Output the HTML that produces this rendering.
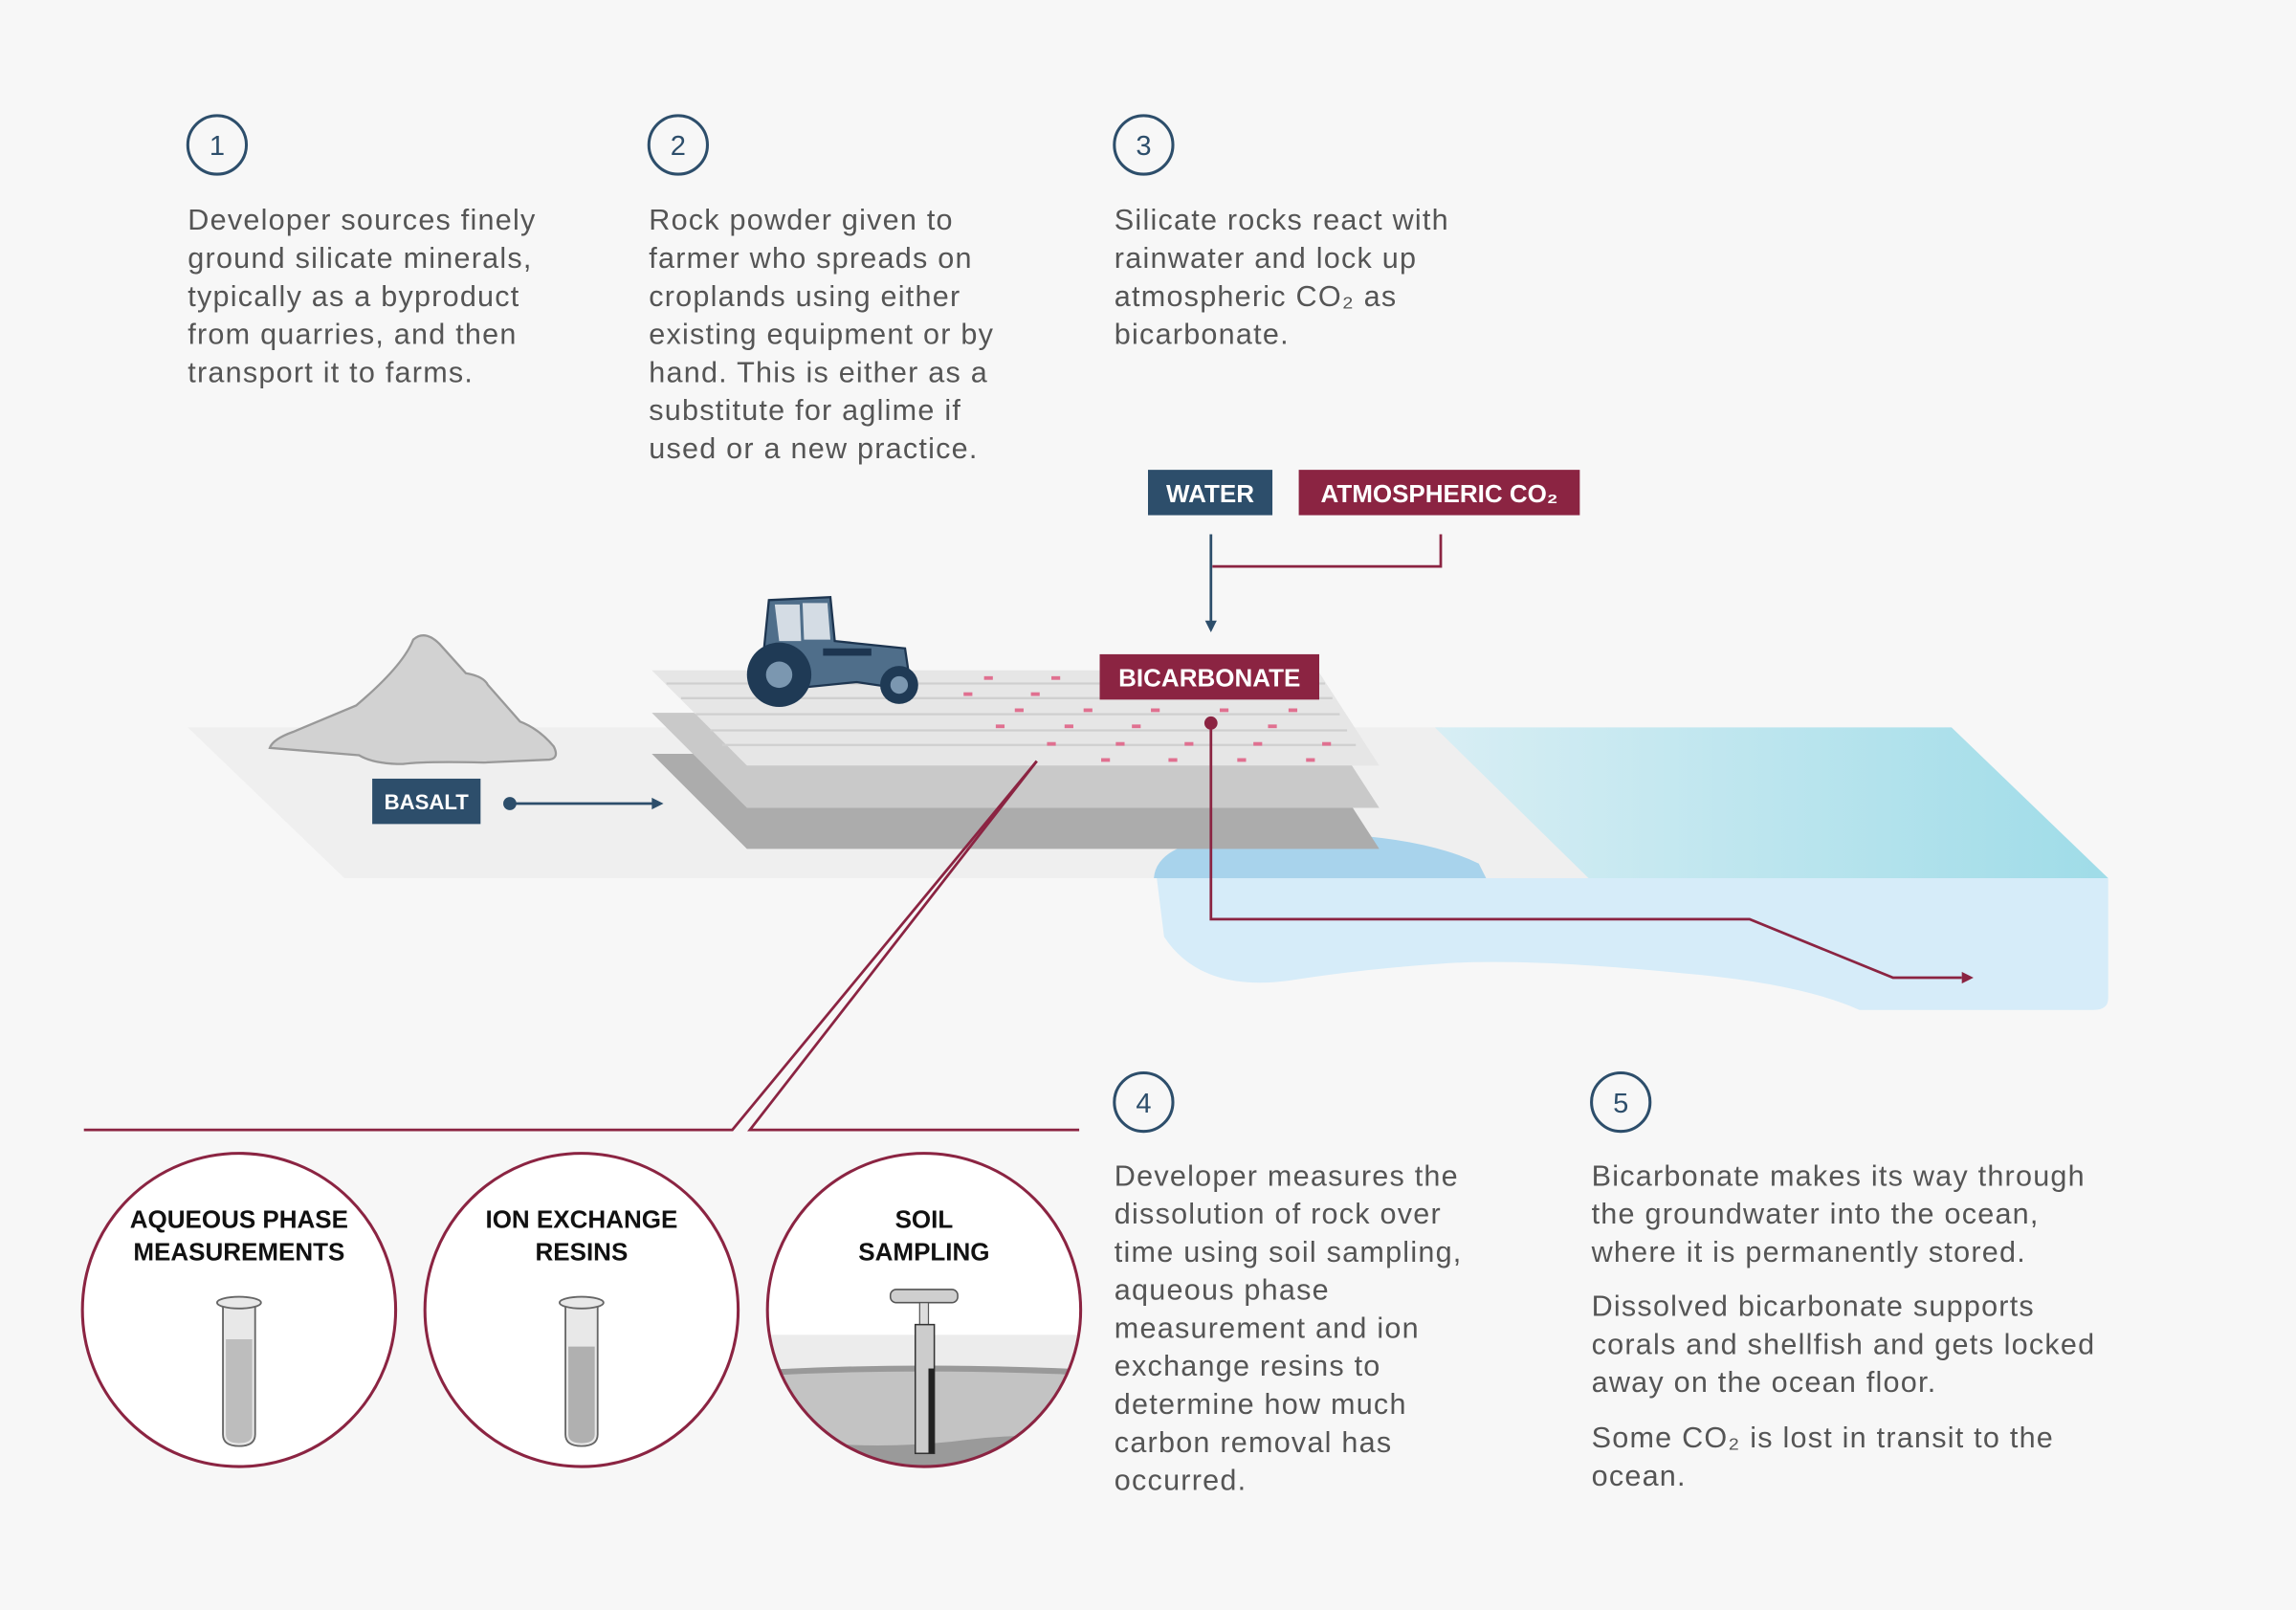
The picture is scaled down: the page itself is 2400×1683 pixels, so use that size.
<!DOCTYPE html>
<html><head><meta charset="utf-8"><style>
html,body{margin:0;padding:0;background:#f7f7f7;}
svg{display:block;}
text{font-family:"Liberation Sans",sans-serif;}
.t{font-size:20px;fill:#555;letter-spacing:0.8px;}
.n{font-size:19px;fill:#2d4e6b;text-anchor:middle;}
.lb{font-size:17px;fill:#fff;font-weight:bold;text-anchor:middle;}
.cl{font-size:17px;fill:#111;font-weight:bold;text-anchor:middle;}
</style></head><body>
<svg width="2400" height="1683" viewBox="0 0 1568 1100" xmlns="http://www.w3.org/2000/svg">
<defs>
<linearGradient id="wg" x1="0" y1="0" x2="1" y2="0"><stop offset="0" stop-color="#d8eef4"/><stop offset="1" stop-color="#9fdce8"/></linearGradient>
<clipPath id="c3"><circle cx="631" cy="895" r="107"/></clipPath>
</defs>
<rect width="1568" height="1100" fill="#f7f7f7"/>
<polygon points="128,497 985,497 1090,600 235,600" fill="#efefef"/>
<path d="M790,600 L1440,600 L1440,682 Q1440,690 1430,690 L1270,690 Q1230,672 1150,665 Q1050,655 990,658 Q930,662 880,670 Q820,678 795,640 Z" fill="#d6ecf9"/>
<path d="M788,600 Q790,572 860,570 Q960,566 1010,590 L1015,600 Z" fill="#a8d3ec"/>
<polygon points="980,497 1333,497 1440,600 1085,600" fill="url(#wg)"/>
<polygon points="445,515 900,515 942,580 510,580" fill="#acacac"/>
<polygon points="445,487 900,487 942,552 510,552" fill="#c9c9c9"/>
<polygon points="445,458 900,458 942,523 510,523" fill="#e6e6e6"/>
<g stroke="#cfcfcf" stroke-width="1.5">
<line x1="455" y1="467" x2="905" y2="467"/><line x1="465" y1="477" x2="910" y2="477"/><line x1="475" y1="488" x2="915" y2="488"/><line x1="485" y1="499" x2="920" y2="499"/><line x1="493" y1="509" x2="926" y2="509"/>
</g>
<g fill="#e07090">
<rect x="672" y="462" width="6" height="2.5"/><rect x="718" y="462" width="6" height="2.5"/>
<rect x="658" y="473" width="6" height="2.5"/><rect x="704" y="473" width="6" height="2.5"/>
<rect x="693" y="484" width="6" height="2.5"/><rect x="740" y="484" width="6" height="2.5"/><rect x="786" y="484" width="6" height="2.5"/><rect x="833" y="484" width="6" height="2.5"/><rect x="880" y="484" width="6" height="2.5"/>
<rect x="680" y="495" width="6" height="2.5"/><rect x="727" y="495" width="6" height="2.5"/><rect x="773" y="495" width="6" height="2.5"/><rect x="866" y="495" width="6" height="2.5"/>
<rect x="715" y="507" width="6" height="2.5"/><rect x="762" y="507" width="6" height="2.5"/><rect x="809" y="507" width="6" height="2.5"/><rect x="856" y="507" width="6" height="2.5"/><rect x="903" y="507" width="6" height="2.5"/>
<rect x="752" y="518" width="6" height="2.5"/><rect x="798" y="518" width="6" height="2.5"/><rect x="845" y="518" width="6" height="2.5"/><rect x="892" y="518" width="6" height="2.5"/>
</g>
<path d="M184,511 Q186,505 200,500 L243,482 Q275,455 282,437 Q290,430 300,440 L318,460 Q330,462 333,468 L355,493 Q368,498 378,510 Q382,518 375,519 L330,521 Q290,520 275,522 Q255,522 245,516 Q210,513 184,511 Z" fill="#d2d2d2" stroke="#999" stroke-width="1.5"/>
<g>
<path d="M525,410 L567,408 L570,438 L618,443 L622,470 L612,470 L585,466 L545,470 L520,460 L522,440 Z" fill="#4f6e8a" stroke="#1d3550" stroke-width="1.5"/>
<path d="M529,413 L546,413 L547,438 L532,438 Z" fill="#d4dce4"/>
<path d="M548,412 L565,412 L567,437 L549,437 Z" fill="#d4dce4"/>
<rect x="562" y="443" width="33" height="5" fill="#1d3550"/>
<circle cx="532" cy="461" r="22" fill="#1f3a55"/><circle cx="532" cy="461" r="9" fill="#7b97b0"/>
<circle cx="614" cy="468" r="13" fill="#1f3a55"/><circle cx="614" cy="468" r="6" fill="#7b97b0"/>
</g>
<g fill="none" stroke-width="1.8">
<line x1="827" y1="365" x2="827" y2="426" stroke="#2d4e6b"/>
<polyline points="828,387 984,387 984,365" stroke="#8b2442"/>
<polyline points="827,494 827,628 1195,628 1293,668 1340,668" stroke="#8b2442"/>
<line x1="348" y1="549" x2="446" y2="549" stroke="#2d4e6b"/>
<polyline points="708,520 500,772 57,772" stroke="#8b2442"/>
<polyline points="708,520 512,772 737,772" stroke="#8b2442"/>
</g>
<polygon points="823,424 831,424 827,432" fill="#2d4e6b"/>
<polygon points="1340,664 1348,668 1340,672" fill="#8b2442"/>
<polygon points="445,545 453,549 445,553" fill="#2d4e6b"/>
<circle cx="827" cy="494" r="4.5" fill="#8b2442"/>
<circle cx="348" cy="549" r="4.5" fill="#2d4e6b"/>
<rect x="784" y="321" width="85" height="31" fill="#2d4e6b"/><text class="lb" x="826.5" y="343">WATER</text>
<rect x="887" y="321" width="192" height="31" fill="#8b2442"/><text class="lb" x="983" y="343">ATMOSPHERIC CO₂</text>
<rect x="751" y="447" width="150" height="31" fill="#8b2442"/><text class="lb" x="826" y="469">BICARBONATE</text>
<rect x="254" y="532" width="74" height="31" fill="#2d4e6b"/><text class="lb" x="291" y="553" style="font-size:14.5px">BASALT</text>
<g fill="none" stroke="#2d4e6b" stroke-width="2">
<circle cx="148" cy="99" r="20"/><circle cx="463" cy="99" r="20"/><circle cx="781" cy="99" r="20"/><circle cx="781" cy="753" r="20"/><circle cx="1107" cy="753" r="20"/>
</g>
<text class="n" x="148" y="106">1</text><text class="n" x="463" y="106">2</text><text class="n" x="781" y="106">3</text><text class="n" x="781" y="760">4</text><text class="n" x="1107" y="760">5</text>
<text class="t"><tspan x="128" y="157">Developer sources finely</tspan><tspan x="128" y="183">ground silicate minerals,</tspan><tspan x="128" y="209">typically as a byproduct</tspan><tspan x="128" y="235">from quarries, and then</tspan><tspan x="128" y="261">transport it to farms.</tspan></text>
<text class="t"><tspan x="443" y="157">Rock powder given to</tspan><tspan x="443" y="183">farmer who spreads on</tspan><tspan x="443" y="209">croplands using either</tspan><tspan x="443" y="235">existing equipment or by</tspan><tspan x="443" y="261">hand. This is either as a</tspan><tspan x="443" y="287">substitute for aglime if</tspan><tspan x="443" y="313">used or a new practice.</tspan></text>
<text class="t"><tspan x="761" y="157">Silicate rocks react with</tspan><tspan x="761" y="183">rainwater and lock up</tspan><tspan x="761" y="209">atmospheric CO₂ as</tspan><tspan x="761" y="235">bicarbonate.</tspan></text>
<text class="t"><tspan x="761" y="810">Developer measures the</tspan><tspan x="761" y="836">dissolution of rock over</tspan><tspan x="761" y="862">time using soil sampling,</tspan><tspan x="761" y="888">aqueous phase</tspan><tspan x="761" y="914">measurement and ion</tspan><tspan x="761" y="940">exchange resins to</tspan><tspan x="761" y="966">determine how much</tspan><tspan x="761" y="992">carbon removal has</tspan><tspan x="761" y="1018">occurred.</tspan></text>
<text class="t"><tspan x="1087" y="810">Bicarbonate makes its way through</tspan><tspan x="1087" y="836">the groundwater into the ocean,</tspan><tspan x="1087" y="862">where it is permanently stored.</tspan><tspan x="1087" y="899">Dissolved bicarbonate supports</tspan><tspan x="1087" y="925">corals and shellfish and gets locked</tspan><tspan x="1087" y="951">away on the ocean floor.</tspan><tspan x="1087" y="989">Some CO₂ is lost in transit to the</tspan><tspan x="1087" y="1015">ocean.</tspan></text>
<circle cx="163" cy="895" r="107" fill="#fff" stroke="#8b2442" stroke-width="2"/>
<circle cx="397" cy="895" r="107" fill="#fff" stroke="#8b2442" stroke-width="2"/>
<circle cx="631" cy="895" r="107" fill="#fff"/>
<g clip-path="url(#c3)">
<rect x="520" y="912" width="230" height="100" fill="#ececec"/>
<path d="M520,936 Q630,930 750,936 L750,1010 L520,1010 Z" fill="#999"/>
<path d="M520,940 Q630,934 750,940 L750,1010 L520,1010 Z" fill="#c3c3c3"/>
<path d="M520,980 Q580,992 650,985 Q700,978 750,983 L750,1010 L520,1010 Z" fill="#9a9a9a"/>
</g>
<circle cx="631" cy="895" r="107" fill="none" stroke="#8b2442" stroke-width="2"/>
<rect x="608" y="881" width="46" height="9" rx="4" fill="#cfcfcf" stroke="#555"/>
<rect x="628" y="890" width="6" height="15" fill="#ddd" stroke="#555" stroke-width="0.8"/>
<rect x="625" y="905" width="13" height="88" fill="#ccc" stroke="#333"/>
<rect x="634" y="935" width="4" height="58" fill="#222"/>
<g fill="#e8e8e8" stroke="#666" stroke-width="1.2">
<path d="M152,890 L152,980 Q152,988 163,988 Q174,988 174,980 L174,890"/>
<ellipse cx="163" cy="890" rx="15" ry="4"/>
<path d="M386,890 L386,980 Q386,988 397,988 Q408,988 408,980 L408,890"/>
<ellipse cx="397" cy="890" rx="15" ry="4"/>
</g>
<path d="M154,915 L154,980 Q154,986 163,986 Q172,986 172,980 L172,915 Z" fill="#bdbdbd"/>
<path d="M388,920 L388,980 Q388,986 397,986 Q406,986 406,980 L406,920 Z" fill="#b0b0b0"/>
<text class="cl"><tspan x="163" y="839">AQUEOUS PHASE</tspan><tspan x="163" y="861">MEASUREMENTS</tspan></text>
<text class="cl"><tspan x="397" y="839">ION EXCHANGE</tspan><tspan x="397" y="861">RESINS</tspan></text>
<text class="cl"><tspan x="631" y="839">SOIL</tspan><tspan x="631" y="861">SAMPLING</tspan></text>
</svg>
</body></html>
